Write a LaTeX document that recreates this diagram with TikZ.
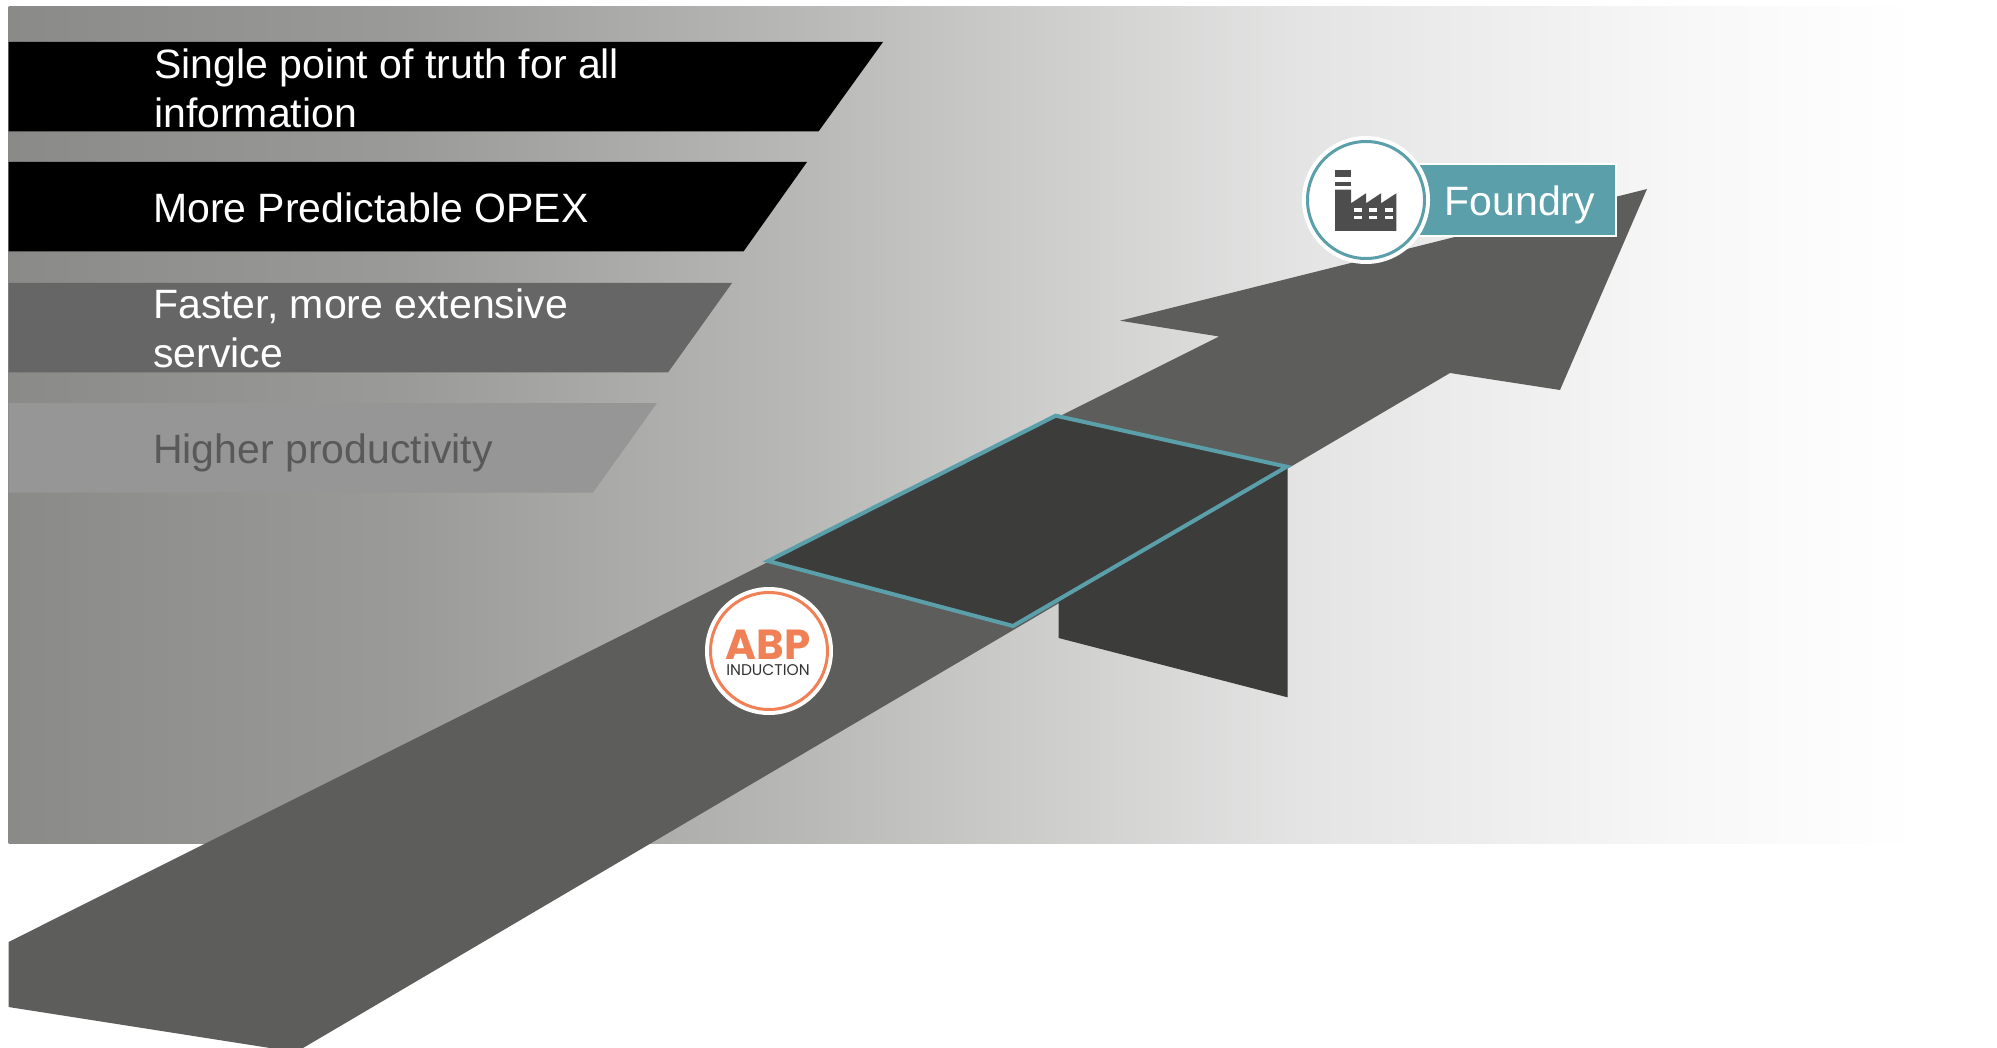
\documentclass[tikz,border=0pt]{standalone}
\usepackage{fontspec}
\setmainfont{Liberation Sans}
\newfontfamily\logofont{Poppins}
\definecolor{bgA}{HTML}{8A8A88}
\definecolor{bgB}{HTML}{9A9A98}
\definecolor{bgC}{HTML}{B8B8B6}
\definecolor{bgD}{HTML}{CECECD}
\definecolor{bgE}{HTML}{E4E4E4}
\definecolor{bgF}{HTML}{F8F8F8}
\definecolor{road}{HTML}{5D5D5B}
\definecolor{panel}{HTML}{3C3C3A}
\definecolor{teal}{HTML}{5A9FAA}
\definecolor{abp}{HTML}{F08055}
\definecolor{ink}{HTML}{4D4D4D}
\pgfdeclarehorizontalshading{bggrad}{100bp}{
  color(0bp)=(bgA);color(25bp)=(bgA);
  color(34.85bp)=(bgB);color(44.9bp)=(bgC);color(51.2bp)=(bgD);color(57.5bp)=(bgE);color(67.5bp)=(bgF);
  color(73bp)=(white);color(100bp)=(white)}
\tikzset{
  bartext/.style={anchor=west,align=left,inner sep=0pt,font=\fontsize{41}{48.5}\selectfont,text=white},
  ring/.style={circle,fill=white,minimum size=128pt,inner sep=0pt},
}
\begin{document}
\begin{tikzpicture}[x=1pt,y=-1pt]
\useasboundingbox (0,0) rectangle (1997,1048);
\fill[white] (0,0) rectangle (1997,1048);
\shade[shading=bggrad] (8.5,6.5) rectangle (1997,843);
% bars
\fill[black] (8.5,42) -- (883,42) -- (818.5,131.5) -- (8.5,131.5) -- cycle;
\fill[black] (8.5,162) -- (807,162) -- (743.5,251.5) -- (8.5,251.5) -- cycle;
\fill[black!60] (8.5,283) -- (732,283) -- (668,372.5) -- (8.5,372.5) -- cycle;
\fill[black!41] (8.5,403) -- (657,403) -- (593,492.5) -- (8.5,492.5) -- cycle;
\node[bartext] (t1) at (154,88.5) {Single point of truth for all\\information};
\node[bartext] (t2) at (153,208) {More Predictable OPEX};
\node[bartext] (t3) at (153,328.5) {Faster, more extensive\\service};
\node[bartext,text=black!65] (t4) at (153,453) {Higher productivity};
% arrow
\fill[road] (8.5,942) -- (1219,336.5) -- (1120,320.7) -- (1647,189) -- (1560,390) -- (1450,373) -- (303,1048) -- (270,1048) -- (8.5,1007) -- cycle;
% panel
\fill[panel] (1058.7,600) -- (1287.5,467) -- (1287.5,697.3) -- (1058.7,638) -- cycle;
\draw[teal,line width=4pt,fill=panel,line join=miter] (768,561) -- (1055.7,415.7) -- (1286.7,466.7) -- (1013,626) -- cycle;
% foundry label
\node[draw=white,line width=2pt,fill=teal,minimum width=202pt,minimum height=72pt,inner sep=0pt] (flabel) at (1515,200.5) {};
\node[anchor=base west,inner sep=0pt,text=white,font=\fontsize{41}{48}\selectfont] (ftext) at (1444.5,216) {Foundry};
\node[ring] (fc) at (1366,200) {};
\draw[teal,line width=3pt] (fc.center) circle (58.5);
\begin{scope}[shift={(1280,120)},x=0.3333pt,y=-0.3333pt]
\fill[ink] (165,150) rectangle (213,172);
\fill[ink] (165,186) rectangle (213,198);
\fill[ink] (165,209) -- (213,209) -- (213,250) -- (258,220) -- (258,250) -- (303,220) -- (303,250) -- (349,220) -- (349,333) -- (165,333) -- cycle;
\foreach \xx in {222,268,315}{
  \fill[white] (\xx,265) rectangle +(24,10);
  \fill[white] (\xx,287) rectangle +(24,11);
}
\end{scope}
% ABP logo
\node[ring] (ac) at (769,651) {};
\draw[abp,line width=3pt] (ac.center) circle (58.5);
\node[anchor=base,inner sep=0pt,text=abp,font=\logofont\bfseries\fontsize{42}{42}\selectfont] (abptext) at (768,659) {ABP};
\node[anchor=base,inner sep=0pt,text=black!80,font=\logofont\fontsize{15.5}{15.5}\selectfont] (indtext) at (768,675) {INDUCTION};
\end{tikzpicture}
\end{document}
